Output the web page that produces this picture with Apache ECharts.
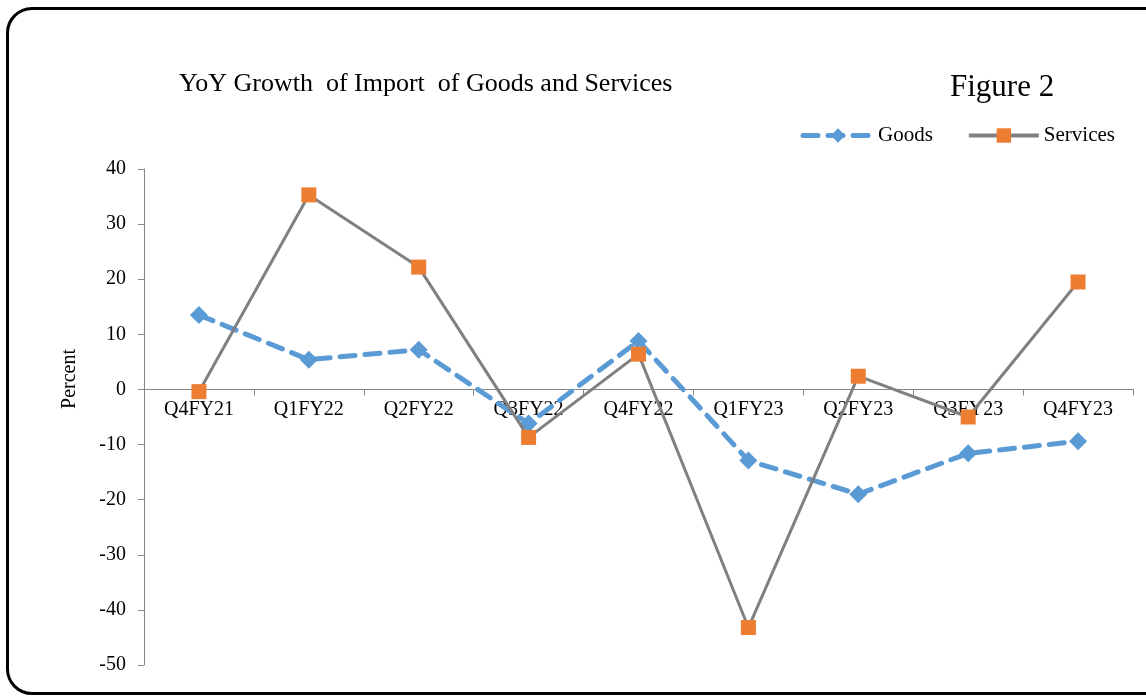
<!DOCTYPE html>
<html>
<head>
<meta charset="utf-8">
<script src="https://cdn.jsdelivr.net/npm/echarts@6/dist/echarts.min.js"></script>
<style>
  html, body { margin: 0; padding: 0; background: #fff; overflow: hidden; }
  #frame {
    position: absolute; left: 6px; top: 7px; width: 1180px; height: 688px;
    border: 3px solid #000; border-radius: 26px; box-sizing: border-box;
  }
  #chart { position: absolute; left: 0; top: 0; width: 1146px; height: 696px; }
</style>
</head>
<body>
<div id="frame"></div>
<div id="chart"></div>
<script>
// 季度类目
var quarters = ['Q4FY21', 'Q1FY22', 'Q2FY22', 'Q3FY22', 'Q4FY22', 'Q1FY23', 'Q2FY23', 'Q3FY23', 'Q4FY23']
// 同比增长 (%)
var goods = [13.5, 5.4, 7.2, -6.2, 8.8, -12.9, -19.0, -11.6, -9.4]
var services = [-0.4, 35.3, 22.2, -8.7, 6.4, -43.2, 2.4, -5.0, 19.5]
var yTicks = { min: -50, max: 40, step: 10 }

var font = '"Liberation Serif", "DejaVu Serif", serif'
var gridTop = 169
var gridBottom = 31
var plotH = 696 - gridTop - gridBottom
// 让横轴停在 0 的位置 (标签跟着轴线走)
var zeroOffset = -plotH * (0 - yTicks.min) / (yTicks.max - yTicks.min)

var chart = echarts.init(document.getElementById('chart'))

chart.setOption({
  backgroundColor: 'transparent',
  title: {
    text: 'YoY Growth  of Import  of Goods and Services',
    left: 174,
    top: 66,
    textStyle: { fontFamily: font, fontWeight: 'normal', fontSize: 26, color: '#000' }
  },
  legend: {
    right: 26,
    top: 120,
    itemWidth: 70,
    itemHeight: 18,
    itemGap: 34,
    textStyle: { fontFamily: font, fontSize: 21, color: '#000' },
    data: [
      { name: 'Goods', lineStyle: { width: 5 } },
      { name: 'Services', lineStyle: { width: 4 } }
    ]
  },
  graphic: [
    {
      type: 'text',
      left: 950,
      top: 72,
      style: { text: 'Figure 2', fontFamily: font, fontSize: 31, fill: '#000' }
    },
    {
      type: 'text',
      x: 70,
      y: 379,
      rotation: Math.PI / 2,
      style: { text: 'Percent', fontFamily: font, fontSize: 20, fill: '#000', align: 'center', verticalAlign: 'middle' }
    }
  ],
  grid: { left: 144, right: 13, top: gridTop, bottom: gridBottom, containLabel: false },
  xAxis: {
    type: 'category',
    data: quarters,
    boundaryGap: true,
    offset: zeroOffset,
    axisLine: { onZero: false, lineStyle: { color: '#868686', width: 1 } },
    axisTick: { show: true, length: 6, lineStyle: { color: '#868686' } },
    axisLabel: { fontFamily: font, fontSize: 20, color: '#000', margin: 10 }
  },
  yAxis: {
    type: 'value',
    min: yTicks.min,
    max: yTicks.max,
    interval: yTicks.step,
    axisLine: { show: true, lineStyle: { color: '#868686', width: 1 } },
    axisTick: { show: true, length: 6, lineStyle: { color: '#868686' } },
    axisLabel: { fontFamily: font, fontSize: 20, color: '#000', margin: 18 },
    splitLine: { show: false }
  },
  series: [
    {
      name: 'Goods',
      type: 'line',
      data: goods,
      symbol: 'diamond',
      symbolSize: 18,
      lineStyle: { color: '#5B9BD5', width: 5, type: [15, 10], cap: 'round' },
      itemStyle: { color: '#5B9BD5' },
      z: 2
    },
    {
      name: 'Services',
      type: 'line',
      data: services,
      symbol: 'rect',
      symbolSize: 15,
      lineStyle: { color: '#808080', width: 3 },
      itemStyle: { color: '#ED7D31' },
      z: 3
    }
  ],
  animation: false
})
</script>
</body>
</html>
